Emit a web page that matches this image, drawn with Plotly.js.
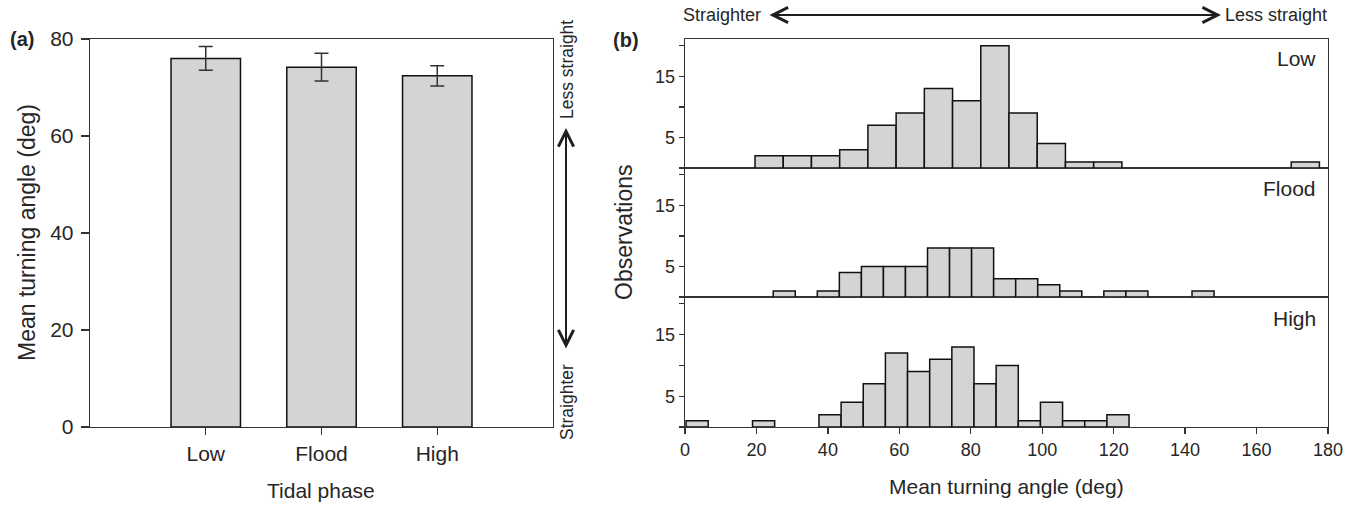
<!DOCTYPE html>
<html><head><meta charset="utf-8">
<script src="https://cdn.plot.ly/plotly-3.0.1.min.js"></script>
<style>html,body{margin:0;padding:0;background:#fff}#chart{width:1355px;height:506px}</style>
</head><body><div id="chart"></div>
<script>
// ---- Panel (a) data ----
const phases = ['Low', 'Flood', 'High'];
const meanAngle = [76.0, 74.2, 72.4];
const seAngle = [2.45, 2.85, 2.1];
const tickA = [0, 20, 40, 60, 80];

// ---- Panel (b) histogram data (bin start, bin width, counts) ----
const lowBinStart = 19.6, lowBinWidth = 7.9;
const lowCounts = [2, 2, 2, 3, 7, 9, 13, 11, 20, 9, 4, 1, 1, 0, 0, 0, 0, 0, 0, 1];
const floodBinStart = 24.7, floodBinWidth = 6.17;
const floodCounts = [1, 0, 1, 4, 5, 5, 5, 8, 8, 8, 3, 3, 2, 1, 0, 1, 1, 0, 0, 1];
const highBinStart = 0.3, highBinWidth = 6.2;
const highCounts = [1, 0, 0, 1, 0, 0, 2, 4, 7, 12, 9, 11, 13, 7, 10, 1, 4, 1, 1, 2];
const tickBx = [0, 20, 40, 60, 80, 100, 120, 140, 160, 180];
const tickBy = [0, 5, 10, 15, 20];
const tickByText = ['', '5', '', '15', ''];

const W = 1355, H = 506;
const px = v => v / W;
const py = v => 1 - v / H;
const FONT = 'Liberation Sans, Arial, sans-serif';
const INK = '#262626';
const FILL = '#d3d4d6';

function histTrace(start, width, counts, xa, ya) {
  const xs = counts.map((c, i) => start + (i + 0.5) * width);
  const ys = counts.map(c => c === 0 ? null : c);
  return {
    type: 'bar', x: xs, y: ys, width: counts.map(() => width),
    xaxis: xa, yaxis: ya,
    marker: {color: FILL, line: {color: '#111', width: 1.5}},
    hoverinfo: 'skip', showlegend: false
  };
}

const traces = [
  {
    type: 'bar', x: phases, y: meanAngle, width: 0.6,
    xaxis: 'x', yaxis: 'y',
    marker: {color: FILL, line: {color: '#111', width: 1.5}},
    error_y: {type: 'data', array: seAngle, visible: true, color: '#333', thickness: 1.5, width: 7},
    showlegend: false, hoverinfo: 'skip'
  },
  histTrace(highBinStart, highBinWidth, highCounts, 'x2', 'y2'),
  histTrace(floodBinStart, floodBinWidth, floodCounts, 'x3', 'y3'),
  histTrace(lowBinStart, lowBinWidth, lowCounts, 'x4', 'y4')
];

const axLine = {showline: true, linecolor: '#333', linewidth: 1.3, mirror: true,
  showgrid: false, zeroline: false, tickcolor: '#333', tickwidth: 1.3, fixedrange: true};

const yB = Object.assign({}, axLine, {range: [0, 21.1], tickvals: tickBy, ticktext: tickByText,
  ticks: 'outside', ticklen: 5, tickfont: {family: FONT, size: 18, color: INK}});

const arrowStyle = {xref: 'paper', yref: 'paper', text: '', showarrow: true,
  arrowside: 'end+start', arrowhead: 5, startarrowhead: 5, arrowsize: 1.5, startarrowsize: 1.5,
  arrowwidth: 2, arrowcolor: '#1e1e1e', standoff: 0, startstandoff: 0};

const layout = {
  width: W, height: H,
  margin: {l: 0, r: 0, t: 0, b: 0},
  paper_bgcolor: '#fff', plot_bgcolor: 'rgba(0,0,0,0)',
  font: {family: FONT, color: INK},
  showlegend: false,
  xaxis: Object.assign({}, axLine, {domain: [px(90), px(553)], anchor: 'y', type: 'category',
    range: [-1, 3], ticks: 'outside', ticklen: 7, tickfont: {family: FONT, size: 21, color: INK}}),
  yaxis: Object.assign({}, axLine, {domain: [py(427), py(39)], anchor: 'x', range: [0, 80],
    tickvals: tickA, ticks: 'outside', ticklen: 8, ticklabelstandoff: 3,
    tickfont: {family: FONT, size: 21, color: INK}}),
  xaxis2: Object.assign({}, axLine, {domain: [px(685), px(1328)], anchor: 'y2', range: [0, 180],
    tickvals: tickBx, ticks: 'outside', ticklen: 6, tickfont: {family: FONT, size: 18, color: INK}}),
  xaxis3: Object.assign({}, axLine, {domain: [px(685), px(1328)], anchor: 'y3', range: [0, 180],
    matches: 'x2', showticklabels: false, ticks: ''}),
  xaxis4: Object.assign({}, axLine, {domain: [px(685), px(1328)], anchor: 'y4', range: [0, 180],
    matches: 'x2', showticklabels: false, ticks: ''}),
  yaxis2: Object.assign({}, yB, {domain: [py(427), py(297)], anchor: 'x2'}),
  yaxis3: Object.assign({}, yB, {domain: [py(297), py(168)], anchor: 'x3'}),
  yaxis4: Object.assign({}, yB, {domain: [py(168), py(39)], anchor: 'x4'}),
  annotations: [
    {text: '<b>(a)</b>', x: px(22), y: py(39), font: {size: 20}},
    {text: '<b>(b)</b>', x: px(626), y: py(40), font: {size: 20}},
    {text: 'Mean turning angle (deg)', x: px(27), y: py(233), textangle: -90, font: {size: 23}},
    {text: 'Tidal phase', x: px(321), y: py(490), font: {size: 21}},
    {text: 'Less straight', x: px(567), y: py(70), textangle: -90, font: {size: 17.5}},
    {text: 'Straighter', x: px(567), y: py(402), textangle: -90, font: {size: 17.5}},
    {text: 'Straighter', x: px(722), y: py(15), font: {size: 18}},
    {text: 'Less straight', x: px(1276), y: py(15), font: {size: 18}},
    {text: 'Observations', x: px(624), y: py(232), textangle: -90, font: {size: 23}},
    {text: 'Mean turning angle (deg)', x: px(1006), y: py(486), font: {size: 21}},
    {text: 'Low', x: px(1318), y: py(58), xanchor: 'right', font: {size: 21}},
    {text: 'Flood', x: px(1318), y: py(188), xanchor: 'right', font: {size: 21}},
    {text: 'High', x: px(1318), y: py(318), xanchor: 'right', font: {size: 21}}
  ].map(a => Object.assign({xref: 'paper', yref: 'paper', showarrow: false,
      xanchor: 'center', yanchor: 'middle'}, a)).concat([
    Object.assign({}, arrowStyle, {x: px(566), y: py(128), ax: 0, ay: 222}),
    Object.assign({}, arrowStyle, {x: px(1221), y: py(15), ax: -453, ay: 0})
  ])
};

Plotly.newPlot('chart', traces, layout, {staticPlot: true, displayModeBar: false});
</script></body></html>
